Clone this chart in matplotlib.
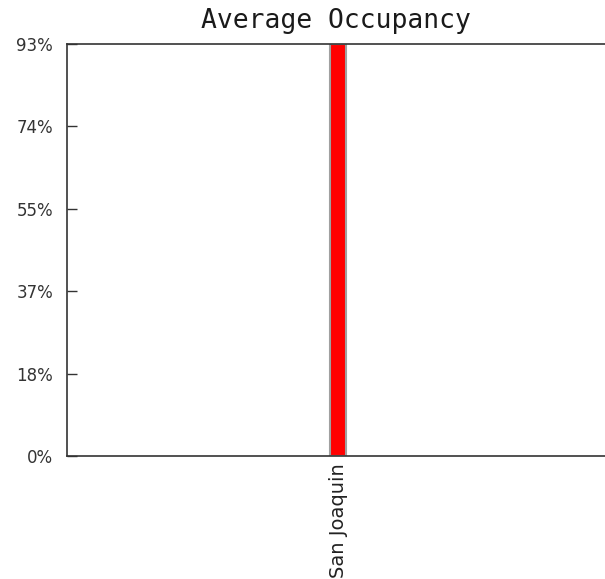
import matplotlib
matplotlib.use("Agg")
import matplotlib.pyplot as plt

# data
regions = ["San Joaquin"]
occupancy = [0.93]
tick_vals = [0.0, 0.186, 0.372, 0.558, 0.744, 0.93]
tick_labels = ["0%", "18%", "37%", "55%", "74%", "93%"]

fig = plt.figure(figsize=(6.05, 5.79), dpi=100)
ax = fig.add_axes([67 / 605, 1 - 456 / 579, 538 / 605, 412 / 579])

ax.bar(range(len(regions)), occupancy, width=0.028, color="red",
       edgecolor="#a0a0a0", linewidth=1.5)
shift = 2.0 / 538
ax.set_xlim(-0.5 - shift, 0.5 - shift)
ax.set_ylim(0, 0.93)

ax.set_xticks(range(len(regions)))
ax.set_xticklabels(regions, rotation=90, fontsize=14, color="#222222")
ax.tick_params(axis="x", length=0, pad=5)

ax.set_yticks(tick_vals)
ax.set_yticklabels(tick_labels, fontsize=12, color="#333333")
ax.tick_params(axis="y", direction="in", length=7, width=1, color="#333333", pad=10)

for side in ["left", "top", "bottom"]:
    ax.spines[side].set_color("#333333")
    ax.spines[side].set_linewidth(1.2)
ax.spines["right"].set_visible(False)

fig.text(336 / 605, 1 - 21 / 579, "Average Occupancy", family="DejaVu Sans Mono",
         fontsize=19, ha="center", va="center", color="#1a1a1a")

fig.savefig("out.png", dpi=100)
